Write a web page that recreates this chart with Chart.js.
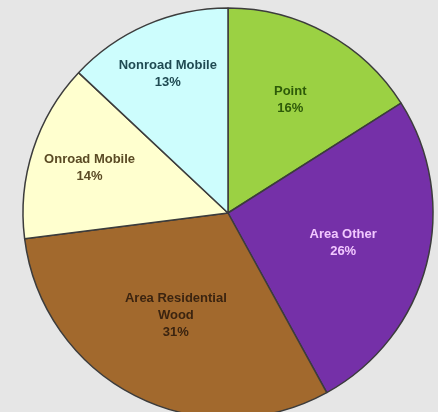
<!DOCTYPE html>
<html>
<head>
<meta charset="utf-8">
<script src="https://cdn.jsdelivr.net/npm/chart.js@4/dist/chart.umd.min.js"></script>
<style>
  html, body { margin: 0; padding: 0; background: #e6e6e6; overflow: hidden; }
  #pie { display: block; }
</style>
</head>
<body>
<canvas id="pie" width="456" height="426"></canvas>
<script>
// categories, clockwise from 12 o'clock
const categories = ["Point", "Area Other", ["Area Residential", "Wood"], "Onroad Mobile", "Nonroad Mobile"];
const shares = [16, 26, 31, 14, 13];

const sliceColors = ["#9bd143", "#7530a8", "#a2692d", "#ffffcf", "#cdfdfd"];
const labelColors = ["#2d5a08", "#f2c8ff", "#3b2410", "#5a4a24", "#1f4a52"];
// distance of each label from the centre, as part of the radius
const labelDist = [0.63, 0.58, 0.56, 0.71, 0.74];

const sliceLabels = {
  id: "sliceLabels",
  afterDatasetsDraw(chart) {
    const { ctx } = chart;
    const meta = chart.getDatasetMeta(0);
    ctx.save();
    ctx.font = "bold 13px 'Liberation Sans', Arial, sans-serif";
    ctx.textAlign = "center";
    ctx.textBaseline = "middle";
    meta.data.forEach((arc, i) => {
      const mid = (arc.startAngle + arc.endAngle) / 2;
      const r = arc.outerRadius * labelDist[i];
      const x = arc.x + Math.cos(mid) * r;
      const y = arc.y + Math.sin(mid) * r;
      const name = [].concat(categories[i]);
      const lines = [...name, `${shares[i]}%`];
      const lh = 17;
      const top = y - (lines.length - 1) * lh / 2;
      ctx.fillStyle = labelColors[i];
      lines.forEach((line, j) => ctx.fillText(line, x, top + j * lh));
    });
    ctx.restore();
  }
};

new Chart(document.getElementById("pie"), {
  type: "pie",
  data: {
    labels: categories,
    datasets: [{
      data: shares,
      backgroundColor: sliceColors,
      borderColor: "#3c3c3c",
      borderWidth: 1.5
    }]
  },
  options: {
    responsive: false,
    animation: false,
    radius: 205,
    layout: { padding: 0 },
    plugins: {
      legend: { display: false },
      tooltip: { enabled: false }
    }
  },
  plugins: [sliceLabels]
});
</script>
</body>
</html>
